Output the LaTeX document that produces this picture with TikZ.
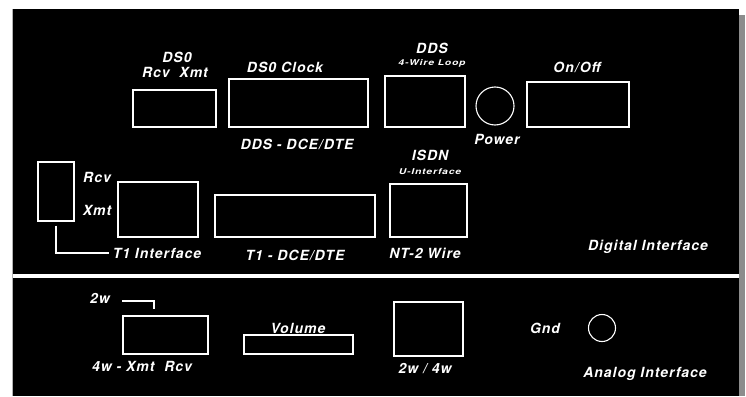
\documentclass[tikz,border=0pt]{standalone}
\usepackage{fontspec}
\setmainfont{TeX Gyre Heros}[LetterSpace=7]
\newfontfamily\tinyface{TeX Gyre Heros}[LetterSpace=10,FakeStretch=1.3]
\usetikzlibrary{positioning}
\newcommand{\lb}{\fontsize{14}{15}\selectfont\bfseries\itshape}
\newcommand{\sm}{\fontsize{8}{9}\tinyface\bfseries\itshape}

\tikzset{
  port/.style={draw=white, line width=1.3pt, inner sep=0pt},
  knob/.style={draw=white, circle, line width=1.1pt, inner sep=0pt},
  lbl/.style={text=white, inner sep=0pt, font=\lb},
  tag/.style={text=white, inner sep=0pt, font=\sm},
  wire/.style={draw=white, line width=1.3pt},
}

\begin{document}
\begin{tikzpicture}[x=1pt,y=-1pt]
   \useasboundingbox (0,0) rectangle (746,396);
   % panels
   \fill[black] (13,9) rectangle (739,274);
   \fill[black] (13,278) rectangle (739,396);
   \fill[gray!90] (739,15) rectangle (745,396);
   \draw[gray!60, line width=1pt] (12.5,9) -- (12.5,396);

   % digital interface
   \node[port, minimum width=83pt, minimum height=37pt] (ds0) at (174.5,108.5) {};
   \node[lbl] (ds0t) at (177,57) {DS0};
   \node[lbl] (ds0rx) at (175,72) {Rcv\ \ Xmt};
   \node[port, minimum width=139pt, minimum height=48pt] (clk) at (298.5,103) {};
   \node[lbl] (clkt) at (285,67) {DS0 Clock};
   \node[lbl] (ddsdce) at (297,144) {DDS - DCE/DTE};
   \node[port, minimum width=80pt, minimum height=51pt] (dds) at (425,101.5) {};
   \node[lbl] (ddst) at (432,48) {DDS};
   \node[tag] (ddsloop) at (432,63) {4-Wire Loop};
   \node[knob, minimum size=38pt] (pwr) at (495,106) {};
   \node[lbl] (pwrt) at (497,139) {Power};
   \node[port, minimum width=102pt, minimum height=45pt] (onoff) at (578,104.5) {};
   \node[lbl] (onofft) at (577,67) {On/Off};

   \node[port, minimum width=36pt, minimum height=59pt] (rx) at (56,191.5) {};
   \node[lbl] (rcv) at (97,177) {Rcv};
   \node[lbl] (xmt) at (97,210) {Xmt};
   \node[port, minimum width=80pt, minimum height=55pt] (t1) at (158,209.5) {};
   \node[lbl] (t1if) at (157,253) {T1 Interface};
   \draw[wire] ([yshift=-4pt]rx.south) |- ([xshift=-4pt]t1if.west);
   \node[port, minimum width=160pt, minimum height=42pt] (t1dce) at (295,216) {};
   \node[lbl] (t1dcet) at (295,255) {T1 - DCE/DTE};
   \node[port, minimum width=77pt, minimum height=53pt] (isdn) at (428.5,210.5) {};
   \node[lbl] (isdnt) at (430,155) {ISDN};
   \node[tag] (isdnu) at (430,172) {U-Interface};
   \node[lbl] (nt2) at (425,253) {NT-2 Wire};
   \node[lbl] (digi) at (648,247) {Digital Interface};

   % analog interface
   \node[port, minimum width=85pt, minimum height=38pt] (an) at (165.5,335) {};
   \node[lbl] (w2) at (100,298) {2w};
   \coordinate (hook) at (154,309);
   \draw[wire] ([xshift=12pt,yshift=-3pt]w2.east) -| (hook);
   \node[lbl] (w4) at (142,366) {4w - Xmt\ \ Rcv};
   \node[port, minimum width=109pt, minimum height=19pt] (vol) at (298.5,344.5) {};
   \node[lbl] (volt) at (298,328) {Volume};
   \node[port, minimum width=69pt, minimum height=54pt] (sw) at (428.5,329) {};
   \node[lbl] (swt) at (425,369) {2w / 4w};
   \node[lbl] (gndt) at (545,328) {Gnd};
   \node[knob, minimum size=27pt] (gnd) at (602,328) {};
   \node[lbl] (ana) at (645,374) {Analog Interface};
\end{tikzpicture}
\end{document}
